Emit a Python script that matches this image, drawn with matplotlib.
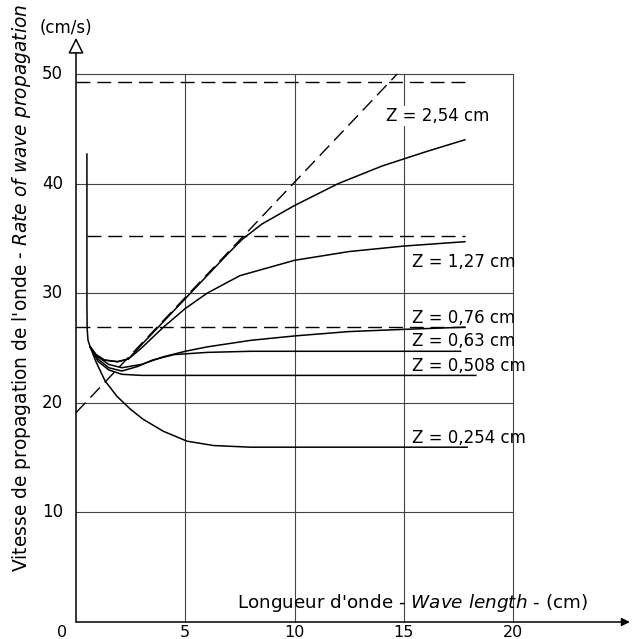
import matplotlib
matplotlib.use('Agg')
import matplotlib.pyplot as plt

plt.rcParams['font.family'] = ['DejaVu Sans']
plt.rcParams['mathtext.fontset'] = 'dejavusans'

# ---------------- data ----------------
x_ticks = [5, 10, 15, 20]
y_ticks = [10, 20, 30, 40, 50]

# common steep start of all curves
trunk_x = [0.5, 0.5, 0.51, 0.55, 0.65]
trunk_y = [42.7, 29.0, 26.8, 25.7, 25.1]

z_254_x = [0.65, 0.9, 1.3, 1.9, 2.4, 3.0, 4.0, 5.0, 6.0, 7.0, 7.6, 8.5, 10.0, 12.0, 14.0, 16.0, 17.8]
z_254_y = [25.1, 24.4, 23.9, 23.75, 24.0, 25.3, 27.4, 29.5, 31.6, 33.7, 34.9, 36.3, 38.0, 40.0, 41.6, 42.9, 44.0]

z_127_x = [0.65, 0.9, 1.3, 1.9, 2.4, 3.0, 4.0, 5.0, 6.0, 7.5, 10.0, 12.5, 15.0, 17.8]
z_127_y = [25.1, 24.4, 23.9, 23.75, 24.0, 25.0, 26.9, 28.6, 30.0, 31.6, 33.0, 33.8, 34.3, 34.7]

z_076_x = [0.65, 1.0, 1.5, 2.1, 3.0, 4.0, 5.0, 6.0, 8.0, 10.0, 12.5, 15.0, 17.8]
z_076_y = [25.1, 24.2, 23.5, 23.2, 23.5, 24.2, 24.7, 25.1, 25.7, 26.1, 26.5, 26.7, 26.9]

z_063_x = [0.65, 1.0, 1.5, 2.1, 2.8, 3.5, 4.5, 6.0, 8.0, 17.6]
z_063_y = [25.1, 24.0, 23.2, 22.9, 23.3, 23.9, 24.4, 24.6, 24.7, 24.7]

z_0508_x = [0.65, 1.0, 1.5, 2.1, 3.0, 18.3]
z_0508_y = [25.1, 23.8, 23.0, 22.6, 22.5, 22.5]

z_0254_x = [0.65, 0.9, 1.33, 1.87, 2.5, 3.07, 4.0, 5.08, 6.3, 8.0, 17.9]
z_0254_y = [25.1, 23.8, 22.0, 20.6, 19.4, 18.5, 17.4, 16.5, 16.1, 15.95, 15.95]

curves_x = [z_254_x, z_127_x, z_076_x, z_063_x, z_0508_x, z_0254_x]
curves_y = [z_254_y, z_127_y, z_076_y, z_063_y, z_0508_y, z_0254_y]

z_labels = ['Z = 2,54 cm', 'Z = 1,27 cm', 'Z = 0,76 cm', 'Z = 0,63 cm',
            'Z = 0,508 cm', 'Z = 0,254 cm']
label_x = [14.2, 15.4, 15.4, 15.4, 15.4, 15.4]
label_y = [45.7, 32.4, 27.3, 25.15, 22.9, 16.3]

# dashed asymptotes
asym_y = [49.3, 35.2, 26.9]
asym_x0 = [0.0, 0.5, 0.0]
asym_x1 = [17.8, 17.8, 17.9]
diag_x = [0.0, 14.7]
diag_y = [19.1, 50.0]

# ---------------- figure ----------------
fig = plt.figure(figsize=(6.34, 6.39), dpi=100)
ax = fig.add_axes([0, 0, 1, 1])
px_x = 21.85
px_y = 10.96
ax.set_xlim(-76 / px_x, (634 - 76) / px_x)
ax.set_ylim(-(639 - 622) / px_y, 622 / px_y)
ax.axis('off')

grid_kw = dict(color='#444444', lw=0.8, zorder=1)
for xv in x_ticks:
    ax.plot([xv, xv], [0, 50], **grid_kw)
for yv in y_ticks:
    ax.plot([0, 20], [yv, yv], **grid_kw)

# axes with arrows
ax.annotate('', xy=(25.35, 0), xytext=(0, 0),
            arrowprops=dict(arrowstyle='-|>', fc='black', ec='black', lw=1.1,
                            mutation_scale=12, shrinkA=0, shrinkB=0), zorder=3)
ax.annotate('', xy=(0, 53.3), xytext=(0, 0),
            arrowprops=dict(arrowstyle='-|>,head_length=0.6,head_width=0.3',
                            fc='white', ec='black', lw=1.1,
                            mutation_scale=16, shrinkA=0, shrinkB=0), zorder=3)

dash = (0, (10, 5))
for yv, x0, x1 in zip(asym_y, asym_x0, asym_x1):
    ax.plot([x0, x1], [yv, yv], color='black', lw=1.0, ls=dash, zorder=2)
ax.plot(diag_x, diag_y, color='black', lw=1.0, ls=dash, zorder=2)

ax.plot(trunk_x, trunk_y, color='black', lw=1.1, zorder=4)
for cx, cy in zip(curves_x, curves_y):
    ax.plot(cx, cy, color='black', lw=1.1, zorder=4)

fs = 12
for i, (lab, lx, ly) in enumerate(zip(z_labels, label_x, label_y)):
    kw = {}
    if i == 0:
        kw['bbox'] = dict(facecolor='white', edgecolor='none', pad=1)
    ax.text(lx, ly, lab, ha='left', va='baseline', fontsize=fs, zorder=3, **kw)

# tick labels
for xv in x_ticks:
    ax.text(xv, -0.3, str(xv), ha='center', va='top', fontsize=11.5)
ax.text(-0.65, -0.3, '0', ha='center', va='top', fontsize=11.5)
for yv in y_ticks:
    ax.text(-0.6, yv, str(yv), ha='right', va='center', fontsize=fs)

ax.text(7.37, 1.73, "Longueur d'onde - $\\mathit{Wave\\ length}$ - (cm)",
        ha='left', va='center', fontsize=13.2)
ax.text(-2.5, 30.5,
        "Vitesse de propagation de l'onde - $\\mathit{Rate\\ of\\ wave\\ propagation}$",
        ha='center', va='center', rotation=90, fontsize=13.4)
ax.text(-0.45, 54.2, '(cm/s)', ha='center', va='center', fontsize=fs)

fig.savefig('out.png', dpi=100)
